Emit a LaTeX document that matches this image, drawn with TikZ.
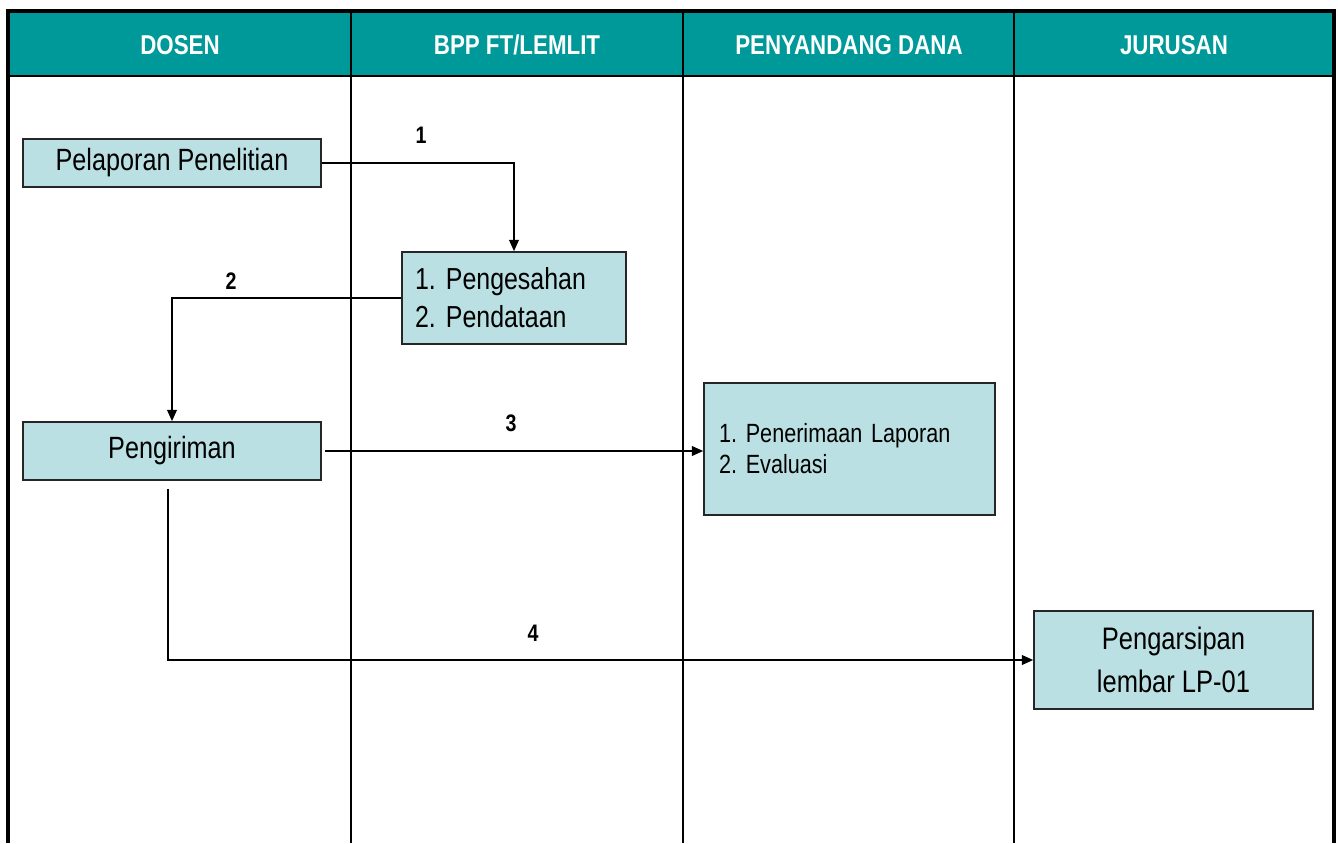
\documentclass[tikz,border=0pt]{standalone}
\usepackage{fontspec}
\setmainfont[FakeStretch=0.82]{Liberation Sans}
\usetikzlibrary{arrows.meta}
\frenchspacing

\definecolor{headteal}{HTML}{009999}
\definecolor{boxblue}{HTML}{BBE0E3}

\tikzset{
    lane/.style={line width=1.1pt},
    stepbox/.style={draw=black!85, line width=0.9pt, fill=boxblue, inner sep=0pt},
    flow/.style={line width=1.1pt, -{Triangle[length=6.5pt,width=5.5pt]}},
    steplabel/.style={font=\fontsize{13.6}{16}\selectfont\bfseries},
    headtext/.style={text=white, font=\fontsize{15.5}{18}\selectfont\bfseries}
}

\begin{document}
\begin{tikzpicture}[x=0.02cm, y=-0.02cm]
    \useasboundingbox (0,0) rectangle (1338,843);

    % Header band
    \fill[headteal] (8,11) rectangle (1334,76);
    \draw[lane] (8,76) -- (1334,76);

    % Lane dividers
    \foreach \xx in {351,683,1014}
        \draw[lane] (\xx,11) -- (\xx,843);

    % Outer frame (open at bottom)
    \draw[line width=2.6pt] (8,843) -- (8,11) -- (1334,11) -- (1334,843);

    % Lane titles
    \node[headtext] (hdosen) at (180,45) {DOSEN};
    \node[headtext] (hbpp) at (517,45) {BPP FT/LEMLIT};
    \node[headtext] (hdana) at (849,45) {PENYANDANG DANA};
    \node[headtext] (hjur) at (1174,45) {JURUSAN};

    % Steps
    \node[stepbox, minimum width=5.96cm, minimum height=0.96cm,
          font=\fontsize{17.5}{21}\selectfont] (lapor) at (172,163) {Pelaporan Penelitian};
    \node[stepbox, minimum height=1.84cm, inner xsep=0.26cm, text width=3.96cm, align=left,
          font=\fontsize{17.3}{21.5}\selectfont] (sah) at (514,298) {1. Pengesahan\\2. Pendataan};
    \node[stepbox, minimum width=5.96cm, minimum height=1.16cm,
          font=\fontsize{17.5}{21}\selectfont] (kirim) at (172,451) {Pengiriman};
    \node[stepbox, minimum height=2.64cm, inner xsep=0.3cm, text width=5.22cm, align=left,
          font=\fontsize{15}{17.6}\selectfont] (terima) at (849.5,449) {1. Penerimaan Laporan\\2. Evaluasi};
    \node[stepbox, minimum width=5.58cm, minimum height=1.96cm, align=center,
          font=\fontsize{17.7}{24.4}\selectfont] (arsip) at (1173.5,660) {Pengarsipan\\lembar LP-01};

    % Flow
    \draw[flow] (lapor.east) -| (sah.north);
    \node[steplabel] (n1) at (421,135) {1};
    \draw[flow] (sah.west) -| (kirim.north);
    \node[steplabel] (n2) at (231,281) {2};
    \draw[flow, shorten <=2pt] (kirim.east) -- (kirim.east -| terima.west);
    \node[steplabel] (n3) at (511,423) {3};
    \draw[flow] ([xshift=-0.08cm, yshift=-0.16cm]kirim.south) |- (arsip.west);
    \node[steplabel] (n4) at (533,633) {4};
\end{tikzpicture}
\end{document}
